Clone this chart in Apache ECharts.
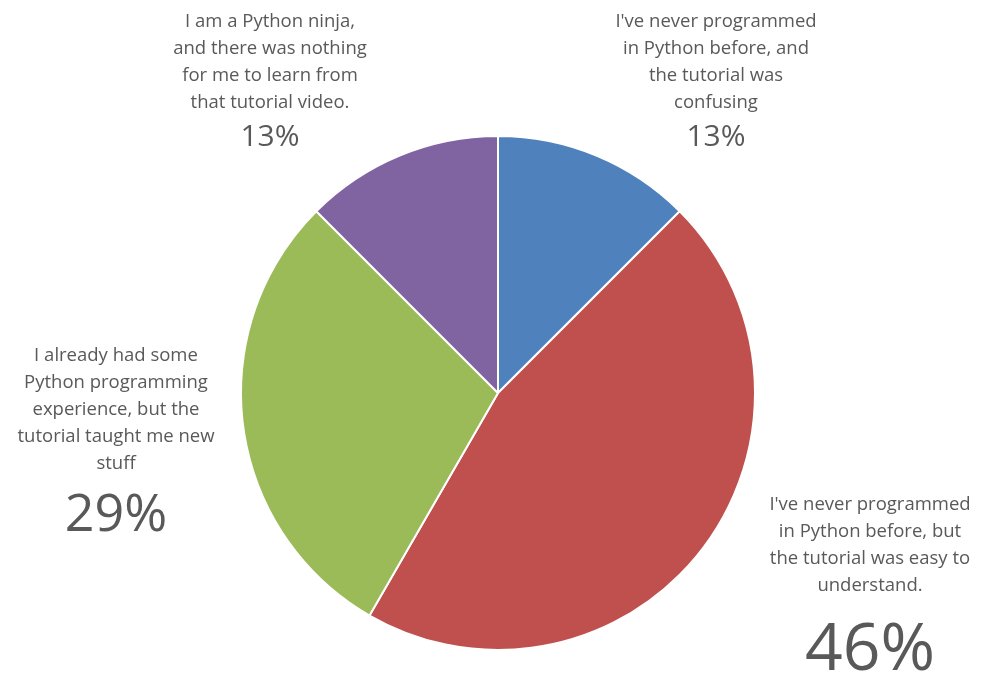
<!DOCTYPE html>
<html>
<head>
<meta charset="utf-8">
<title>Python tutorial feedback</title>
<script src="https://cdn.jsdelivr.net/npm/echarts@6/dist/echarts.min.js"></script>
<style>
  html, body { margin: 0; padding: 0; background: #ffffff; }
  #chart { width: 984px; height: 677px; }
</style>
</head>
<body>
<div id="chart"></div>
<script>
// Survey answers (number of respondents per answer)
const categories = [
  "I've never programmed\nin Python before, and\nthe tutorial was\nconfusing",
  "I've never programmed\nin Python before, but\nthe tutorial was easy to\nunderstand.",
  "I already had some\nPython programming\nexperience, but the\ntutorial taught me new\nstuff",
  "I am a Python ninja,\nand there was nothing\nfor me to learn from\nthat tutorial video."
];
const responses = [3, 11, 7, 3];
const colors = ['#4F81BD', '#C0504D', '#9BBB59', '#8064A2'];

// Label placement: block centre x, block top y, percentage font size, percentage line height
const labelSpots = [
  { x: 716, y: 8,   pctSize: 30, pctLine: 42 },
  { x: 870, y: 491, pctSize: 66, pctLine: 104 },
  { x: 116, y: 342, pctSize: 52, pctLine: 78 },
  { x: 270, y: 8,   pctSize: 30, pctLine: 42 }
];

const textColor = '#595959';
const fontFamily = '"Open Sans", "Noto Sans", sans-serif';

const rich = {
  txt: { fontSize: 18.5, lineHeight: 27, color: textColor, fontFamily: fontFamily, align: 'center' }
};
labelSpots.forEach(function (s, i) {
  rich['pct' + i] = { fontSize: s.pctSize, lineHeight: s.pctLine, color: textColor, fontFamily: fontFamily, align: 'center' };
});

const chart = echarts.init(document.getElementById('chart'), null, { renderer: 'canvas' });

chart.setOption({
  animation: false,
  backgroundColor: '#ffffff',
  series: [{
    type: 'pie',
    center: [498, 393],
    radius: 257,
    startAngle: 90,
    clockwise: true,
    itemStyle: { borderColor: '#ffffff', borderWidth: 2 },
    label: {
      show: true,
      position: 'outside',
      overflow: 'none',
      rich: rich,
      formatter: function (p) {
        const lines = p.name.split('\n').map(function (l) { return '{txt|' + l + '}'; });
        lines.push('{pct' + p.dataIndex + '|' + Math.round(p.percent) + '%}');
        return lines.join('\n');
      }
    },
    labelLine: { show: false },
    labelLayout: function (params) {
      const s = labelSpots[params.dataIndex];
      return { x: s.x, y: s.y, align: 'center', verticalAlign: 'top' };
    },
    emphasis: { disabled: true },
    data: categories.map(function (c, i) {
      return { name: c, value: responses[i], itemStyle: { color: colors[i] } };
    })
  }]
});
</script>
</body>
</html>
